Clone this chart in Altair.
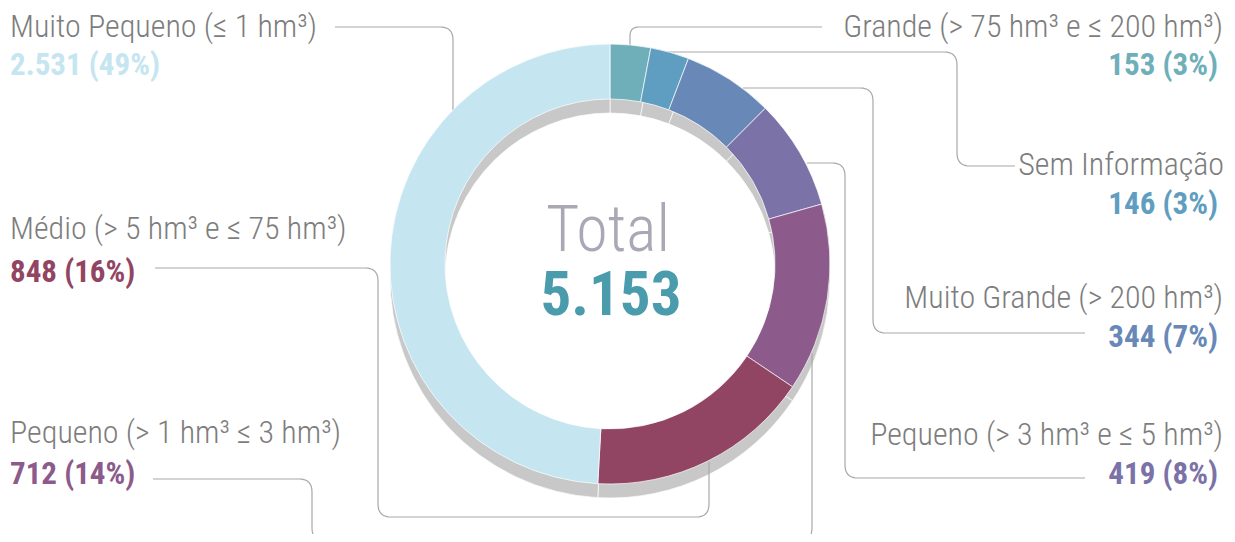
import altair as alt
import pandas as pd

# ---------------- data ----------------
categories = [
    "Grande (> 75 hm³ e ≤ 200 hm³)",
    "Sem Informação",
    "Muito Grande (> 200 hm³)",
    "Pequeno (> 3 hm³ e ≤ 5 hm³)",
    "Pequeno (> 1 hm³ ≤ 3 hm³)",
    "Médio (> 5 hm³ e ≤ 75 hm³)",
    "Muito Pequeno (≤ 1 hm³)",
]
values = [153, 146, 344, 419, 712, 848, 2531]
colors = ["#6eafba", "#5f9ec0", "#6889b8", "#7b72a7", "#8c5b8b", "#924463", "#c5e5f0"]

# ---------------- layout (pixel coordinates of the 1235x542 page) ----------------
CX, CY = 610, 264
R_OUT, R_IN = 220, 165
SHADOW_DY = 14
FONT = "Roboto Condensed, Roboto"

# side, x of title, x of value, title baseline, value baseline
label_layout = {
    categories[0]: ("right", 1223, 1218, 37, 75),
    categories[1]: ("right", 1224, 1218, 175, 214),
    categories[2]: ("right", 1223, 1218, 308, 347),
    categories[3]: ("right", 1223, 1218, 445, 484),
    categories[4]: ("left", 10, 10, 443, 484),
    categories[5]: ("left", 10, 10, 239, 282),
    categories[6]: ("left", 10, 10, 37, 75),
}

# leader-line waypoints (label end -> slice edge)
leaders = {
    categories[0]: [(822, 27), (630, 27), (630, 45)],
    categories[1]: [(1015, 166), (957, 166), (957, 52), (667, 52)],
    categories[2]: [(1085, 333), (873, 333), (873, 88), (743, 88)],
    categories[3]: [(1085, 478), (845, 478), (845, 163), (807, 163)],
    categories[4]: [(153, 479), (312, 479), (312, 541), (812, 541), (812, 353)],
    categories[5]: [(155, 268), (378, 268), (378, 517), (709, 517), (709, 462)],
    categories[6]: [(335, 27), (453, 27), (453, 110)],
}
CORNER_R = 13


def rounded(points, r=CORNER_R, steps=8):
    out = [points[0]]
    for i in range(1, len(points) - 1):
        (x0, y0), (x1, y1), (x2, y2) = points[i - 1], points[i], points[i + 1]
        l1 = ((x1 - x0) ** 2 + (y1 - y0) ** 2) ** 0.5
        l2 = ((x2 - x1) ** 2 + (y2 - y1) ** 2) ** 0.5
        rr = min(r, l1 / 2, l2 / 2)
        p0 = (x1 - (x1 - x0) / l1 * rr, y1 - (y1 - y0) / l1 * rr)
        p2 = (x1 + (x2 - x1) / l2 * rr, y1 + (y2 - y1) / l2 * rr)
        for k in range(steps + 1):
            t = k / steps
            bx = (1 - t) ** 2 * p0[0] + 2 * (1 - t) * t * x1 + t ** 2 * p2[0]
            by = (1 - t) ** 2 * p0[1] + 2 * (1 - t) * t * y1 + t ** 2 * p2[1]
            out.append((bx, by))
    out.append(points[-1])
    return out


total = sum(values)


def fmt(v):
    return f"{v:,}".replace(",", ".")


slices = pd.DataFrame({
    "cat": categories,
    "value": values,
    "idx": list(range(len(values))),
    "cx": [CX] * len(values),
    "cy": [CY] * len(values),
    "cys": [CY + SHADOW_DY] * len(values),
})

rows_t, rows_v = [], []
for c, v in zip(categories, values):
    side, xt, xv, yt, yv = label_layout[c]
    pct = round(v / total * 100)
    rows_t.append({"cat": c, "text": c, "x": xt, "y": yt, "side": side})
    rows_v.append({"cat": c, "text": f"{fmt(v)} ({pct}%)", "x": xv, "y": yv, "side": side})
titles = pd.DataFrame(rows_t)
vals = pd.DataFrame(rows_v)

line_rows = []
for c, pts in leaders.items():
    for k, (px, py) in enumerate(rounded(pts)):
        line_rows.append({"lid": c, "ord": k, "px": px, "py": py})
lines = pd.DataFrame(line_rows)

center = pd.DataFrame({
    "text": ["Total", fmt(total)],
    "x": [CX - 2, CX + 1],
    "y": [251, 315],
    "kind": ["label", "value"],
})

# ---------------- scales ----------------
xs = alt.Scale(domain=[8, 1227], nice=False, zero=False)
ys = alt.Scale(domain=[8, 534], reverse=True, nice=False, zero=False)
cs = alt.Scale(domain=categories, range=colors)


def X(f):
    return alt.X(f"{f}:Q", scale=xs, axis=None)


def Y(f):
    return alt.Y(f"{f}:Q", scale=ys, axis=None)


theta = alt.Theta("value:Q", stack=True)
order = alt.Order("idx:Q", sort="ascending")

shadow = alt.Chart(slices).mark_arc(
    innerRadius=R_IN, outerRadius=R_OUT, fill="#c8c8c8", stroke="white", strokeWidth=0.7
).encode(x=X("cx"), y=Y("cys"), theta=theta, order=order)

ring = alt.Chart(slices).mark_arc(
    innerRadius=R_IN, outerRadius=R_OUT, stroke="white", strokeWidth=0.7
).encode(
    x=X("cx"), y=Y("cy"), theta=theta, order=order,
    color=alt.Color("cat:N", scale=cs, legend=None),
)

leader = alt.Chart(lines).mark_line(color="#a8a8a8", strokeWidth=1.2).encode(
    x=X("px"), y=Y("py"), detail="lid:N", order=alt.Order("ord:Q")
)


def text_layer(df, side, **kw):
    return alt.Chart(df).transform_filter(alt.datum.side == side).mark_text(
        align=side, baseline="alphabetic", font=FONT, **kw
    )


TITLE_SIZE = 32
VALUE_SIZE = 31

title_l = text_layer(titles, "left", fontSize=TITLE_SIZE, fontWeight=300, color="#7d7d7d").encode(
    x=X("x"), y=Y("y"), text="text:N")
title_r = text_layer(titles, "right", fontSize=TITLE_SIZE, fontWeight=300, color="#7d7d7d").encode(
    x=X("x"), y=Y("y"), text="text:N")
val_l = text_layer(vals, "left", fontSize=VALUE_SIZE, fontWeight="bold").encode(
    x=X("x"), y=Y("y"), text="text:N", color=alt.Color("cat:N", scale=cs, legend=None))
val_r = text_layer(vals, "right", fontSize=VALUE_SIZE, fontWeight="bold").encode(
    x=X("x"), y=Y("y"), text="text:N", color=alt.Color("cat:N", scale=cs, legend=None))

total_label = alt.Chart(center).transform_filter(alt.datum.kind == "label").mark_text(
    align="center", baseline="alphabetic", font=FONT, fontSize=64, fontWeight=300, color="#a9a9b5"
).encode(x=X("x"), y=Y("y"), text="text:N")
total_value = alt.Chart(center).transform_filter(alt.datum.kind == "value").mark_text(
    align="center", baseline="alphabetic", font=FONT, fontSize=61, fontWeight="bold", color="#4a9bab"
).encode(x=X("x"), y=Y("y"), text="text:N")

chart = alt.layer(
    shadow, leader, ring, title_l, title_r, val_l, val_r, total_label, total_value
).properties(
    width=1219, height=526, padding=0, autosize="none"
).configure_view(stroke=None)

chart.save("out.html", embed_options={"renderer": "svg", "actions": False})
